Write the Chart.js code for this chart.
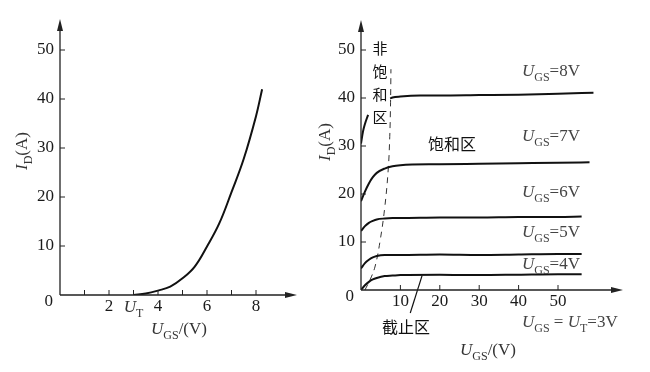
<!DOCTYPE html>
<html>
<head>
<meta charset="utf-8">
<script src="https://cdn.jsdelivr.net/npm/chart.js@4.4.1/dist/chart.umd.min.js"></script>
<style>
  html,body{margin:0;padding:0;background:#fff;}
  #wrap{position:relative;width:650px;height:372px;}
  canvas{position:absolute;left:0;top:0;}
</style>
</head>
<body>
<div id="wrap">
  <canvas id="leftChart" width="650" height="372"></canvas>
  <canvas id="rightChart" width="650" height="372"></canvas>
</div>
<script>
// transfer curve (left)
const transferUgs = [3, 3.5, 4, 4.5, 5, 5.5, 6, 6.5, 7, 7.5, 8, 8.25];
const transferId  = [0, 0.3, 0.9, 1.7, 3.4, 5.8, 9.9, 14.6, 21, 27.8, 36.5, 42];
const leftXTicks  = [1, 2, 3, 4, 5, 6, 7, 8];
const leftXLabels = ["", "2", "UT", "4", "", "6", "", "8"];
const yTicks      = [10, 20, 30, 40, 50];

// output curves (right)
const uds   = [0, 1, 2, 3, 4, 6, 8, 10, 20, 30, 40, 50, 56];
const id4V  = [0, 1.0, 1.7, 2.2, 2.5, 2.9, 3.0, 3.1, 3.2, 3.1, 3.2, 3.3, 3.3];
const id5V  = [4.5, 5.6, 6.3, 6.8, 7.1, 7.3, 7.3, 7.3, 7.4, 7.3, 7.4, 7.5, 7.5];
const id6V  = [12.3, 13.3, 14.0, 14.4, 14.7, 14.9, 15.0, 15.0, 15.1, 15.1, 15.2, 15.2, 15.3];
const uds7V = [0, 1, 2, 3, 4, 6, 8, 10, 20, 30, 40, 50, 58];
const id7V  = [18.5, 20.5, 22.2, 23.5, 24.4, 25.3, 25.8, 26.0, 26.2, 26.3, 26.4, 26.5, 26.6];
const uds8Va = [0, 0.5, 1, 1.8];
const id8Va  = [30.5, 33, 34.6, 36.5];
const uds8Vb = [7.4, 8, 10, 15, 20, 30, 40, 50, 59];
const id8Vb  = [39.9, 40.1, 40.3, 40.5, 40.5, 40.6, 40.7, 40.9, 41.1];
const boundaryUds = [1, 2.5, 3.6, 4.8, 6, 6.9, 7.3, 7.5, 7.6];
const boundaryId  = [0, 2.5, 5, 10, 17, 25, 32, 39, 46];
const leaderUds = [12.5, 15.5];
const leaderId  = [-4.8, 3.0];
const rightXTicks = [10, 20, 30, 40, 50];

const serif = '"Liberation Serif", "DejaVu Serif", serif';
const cjk = '"Noto Sans CJK SC", sans-serif';

function pts(xs, ys){ return xs.map((x,i)=>({x:x, y:ys[i]})); }

function curve(xs, ys, extra){
  return Object.assign({
    data: pts(xs, ys), showLine:true, borderColor:"#111", borderWidth:2,
    pointRadius:0, cubicInterpolationMode:"monotone", fill:false
  }, extra||{});
}

function fontFor(k){
  if(k==="s") return "12px " + serif;
  if(k==="i") return "italic 17px " + serif;
  return "17px " + serif;
}

function rich(ctx, parts, x, y, align){
  let w = 0;
  parts.forEach(([t,k])=>{ ctx.font = fontFor(k); w += ctx.measureText(t).width; });
  let cx = align==="center" ? x - w/2 : (align==="right" ? x - w : x);
  ctx.textAlign = "left";
  ctx.textBaseline = "alphabetic";
  parts.forEach(([t,k])=>{
    ctx.font = fontFor(k);
    ctx.fillText(t, cx, k==="s" ? y + 5 : y);
    cx += ctx.measureText(t).width;
  });
}

function arrowUp(ctx, x, y){
  ctx.beginPath(); ctx.moveTo(x, y); ctx.lineTo(x-3, y+12); ctx.lineTo(x+3, y+12); ctx.closePath(); ctx.fill();
}
function arrowRight(ctx, x, y){
  ctx.beginPath(); ctx.moveTo(x, y); ctx.lineTo(x-12, y-3); ctx.lineTo(x-12, y+3); ctx.closePath(); ctx.fill();
}

function drawFrame(chart, xTicks, xLabels, yTickVals){
  const ctx = chart.ctx, a = chart.chartArea;
  const xs = chart.scales.x, ys = chart.scales.y;
  const ox = xs.getPixelForValue(0), oy = ys.getPixelForValue(0);
  ctx.save();
  ctx.strokeStyle = "#222"; ctx.fillStyle = "#222"; ctx.lineWidth = 1.3;
  ctx.beginPath();
  ctx.moveTo(ox, oy); ctx.lineTo(ox, a.top + 4);
  ctx.moveTo(ox, oy); ctx.lineTo(a.right - 4, oy);
  ctx.stroke();
  arrowUp(ctx, ox, a.top);
  arrowRight(ctx, a.right, oy);
  ctx.lineWidth = 1;
  ctx.beginPath();
  xTicks.forEach(v=>{ const p = xs.getPixelForValue(v); ctx.moveTo(p, oy); ctx.lineTo(p, oy-5); });
  yTickVals.forEach(v=>{ const p = ys.getPixelForValue(v); ctx.moveTo(ox, p); ctx.lineTo(ox+5, p); });
  ctx.stroke();
  ctx.fillStyle = "#1a1a1a";
  ctx.font = "17px " + serif;
  ctx.textAlign = "right"; ctx.textBaseline = "middle";
  yTickVals.forEach(v=>{ ctx.fillText(String(v), ox - 6, ys.getPixelForValue(v)); });
  ctx.fillText("0", ox - 7, oy + 7);
  xTicks.forEach((v,i)=>{
    const lab = xLabels[i];
    if(!lab) return;
    const p = xs.getPixelForValue(v);
    if(lab==="UT"){
      ctx.fillStyle = "#333";
      rich(ctx, [["U","i"],["T","s"]], p, oy + 17, "center");
      ctx.fillStyle = "#1a1a1a";
    } else {
      ctx.font = "17px " + serif; ctx.textAlign = "center"; ctx.textBaseline = "middle";
      ctx.fillText(lab, p, oy + 12);
    }
  });
  ctx.restore();
}

const leftPlugin = {
  id:"leftFrame",
  afterDatasetsDraw(chart){
    const ctx = chart.ctx;
    drawFrame(chart, leftXTicks, leftXLabels, yTicks);
    ctx.save();
    ctx.fillStyle = "#333";
    rich(ctx, [["U","i"],["GS","s"],["/(V)","n"]], 179, 334, "center");
    ctx.translate(27, 151); ctx.rotate(-Math.PI/2);
    rich(ctx, [["I","i"],["D","s"],["(A)","n"]], 0, 0, "center");
    ctx.restore();
  }
};

const rightPlugin = {
  id:"rightFrame",
  afterDatasetsDraw(chart){
    const ctx = chart.ctx;
    drawFrame(chart, rightXTicks, rightXTicks.map(String), yTicks);
    ctx.save();
    ctx.fillStyle = "#333";
    rich(ctx, [["U","i"],["GS","s"],["/(V)","n"]], 488, 355, "center");
    ctx.save();
    ctx.translate(330, 142); ctx.rotate(-Math.PI/2);
    rich(ctx, [["I","i"],["D","s"],["(A)","n"]], 0, 0, "center");
    ctx.restore();
    const gsLabels = [["8V",76],["7V",141],["6V",197],["5V",237],["4V",269]];
    ctx.fillStyle = "#444";
    gsLabels.forEach(([v,y])=>{ rich(ctx, [["U","i"],["GS","s"],["=" + v,"n"]], 522, y, "left"); });
    rich(ctx, [["U","i"],["GS","s"],[" = ","n"],["U","i"],["T","s"],["=3V","n"]], 522, 327, "left");
    ctx.fillStyle = "#111";
    ctx.font = "15px " + cjk;
    ctx.textAlign = "center"; ctx.textBaseline = "middle";
    ["非","饱","和","区"].forEach((c,i)=>{ ctx.fillText(c, 380, 48 + i*23); });
    ctx.font = "16px " + cjk;
    ctx.fillText("饱和区", 452, 144);
    ctx.fillText("截止区", 406, 327);
    ctx.restore();
  }
};

function makeChart(id, datasets, xMax, yMax, pad, plugin){
  return new Chart(document.getElementById(id), {
    type:"scatter",
    data:{ datasets: datasets },
    options:{
      responsive:false, maintainAspectRatio:false, animation:false, devicePixelRatio:1,
      layout:{ padding: pad },
      plugins:{ legend:{display:false}, tooltip:{enabled:false} },
      scales:{
        x:{ type:"linear", min:0, max:xMax, display:false },
        y:{ type:"linear", min:0, max:yMax, display:false }
      }
    },
    plugins:[plugin]
  });
}

makeChart("leftChart",
  [ curve(transferUgs, transferId, { cubicInterpolationMode:"default", tension:0.4 }) ],
  (297-60)/24.5, (295-19)/4.9,
  { left:60, right:650-297, top:19, bottom:372-295 },
  leftPlugin);

makeChart("rightChart",
  [
    curve(uds, id4V),
    curve(uds, id5V),
    curve(uds, id6V),
    curve(uds7V, id7V),
    curve(uds8Va, id8Va),
    curve(uds8Vb, id8Vb),
    curve(boundaryUds, boundaryId, { borderWidth:1, borderDash:[6,5], borderColor:"#333", cubicInterpolationMode:"default", tension:0.4 }),
    curve(leaderUds, leaderId, { borderWidth:1.2, clip:false, cubicInterpolationMode:"default", tension:0 })
  ],
  (623-361)/3.94, (290-20)/4.8,
  { left:361, right:650-623, top:20, bottom:372-290 },
  rightPlugin);
</script>
</body>
</html>
